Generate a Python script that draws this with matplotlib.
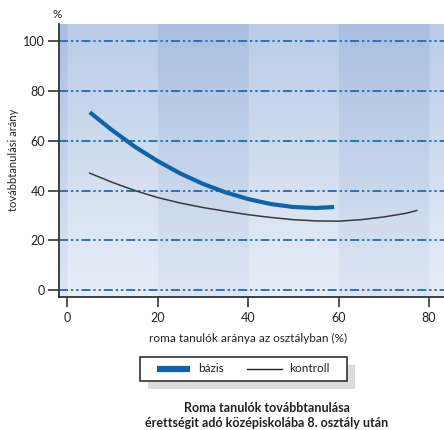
import numpy as np
import matplotlib
matplotlib.use("Agg")
import matplotlib.pyplot as plt
from matplotlib.patches import Rectangle
from matplotlib.lines import Line2D

# Data
bazis_x = [5, 10, 15, 20, 25, 30, 35, 40, 45, 50, 55, 59]
bazis_y = [71.5, 64.2, 57.6, 51.9, 46.9, 42.7, 39.3, 36.6, 34.6, 33.4, 33.0, 33.4]
kontroll_x = [5, 10, 15, 20, 25, 30, 35, 40, 45, 50, 55, 60, 65, 70, 75, 77.3]
kontroll_y = [47.0, 43.3, 40.0, 37.2, 35.0, 33.2, 31.7, 30.3, 29.2, 28.3, 27.8, 27.7, 28.3, 29.4, 30.9, 32.0]
x_ticks = [0, 20, 40, 60, 80]
y_ticks = [0, 20, 40, 60, 80, 100]
series_labels = ["bázis", "kontroll"]

plt.rcParams['font.family'] = ['Lato', 'DejaVu Sans']

fig = plt.figure(figsize=(4.44, 4.30), dpi=100)
ax = fig.add_axes([59/444, 1-297/430, 1-59/444, (297-24)/430])
xmin, xmax = -1.8, 83.3
ymin, ymax = -2.8, 107.0
ax.set_xlim(xmin, xmax)
ax.set_ylim(ymin, ymax)

# background: alternating vertical bands with vertical gradient
top_light = np.array([0xb9, 0xcc, 0xe7]) / 255
top_dark = np.array([0xa9, 0xbf, 0xe0]) / 255
bot_light = np.array([0xe8, 0xee, 0xf8]) / 255
bot_dark = np.array([0xde, 0xe6, 0xf4]) / 255
nx, ny = 600, 200
xs = np.linspace(xmin, xmax, nx)
band_dark = (np.floor(xs / 20).astype(int) % 2 != 0)
t = np.linspace(0, 1, ny)[:, None, None]
light = top_light * (1 - t) + bot_light * t
dark = top_dark * (1 - t) + bot_dark * t
img = np.where(band_dark[None, :, None], dark, light)
ax.imshow(img, extent=[xmin, xmax, ymin, ymax], aspect='auto', origin='upper', zorder=0)

for yv in y_ticks:
    ax.axhline(yv, color='#1b6db3', lw=1.3, dashes=(5, 1.6, 1.3, 1.6, 1.3, 1.6), zorder=1)

ax.plot(bazis_x, bazis_y, color='#0f63a8', lw=3.0, solid_capstyle='butt', zorder=3)
ax.plot(kontroll_x, kontroll_y, color='#3a3a3a', lw=1.1, zorder=3)

for s in ['top', 'right']:
    ax.spines[s].set_visible(False)
for s in ['left', 'bottom']:
    ax.spines[s].set_color('#333333')
    ax.spines[s].set_linewidth(1.3)

ax.set_xticks(x_ticks)
ax.set_yticks(y_ticks)
ax.tick_params(axis='y', length=8, width=1.2, color='#333333', labelsize=9, pad=2, direction='out',
               labelcolor='#222222')
ax.tick_params(axis='x', length=7, width=1.2, color='#333333', labelsize=9, pad=4, direction='out',
               labelcolor='#222222')

fig.text(57/444, 1-14/430, '%', fontsize=8.5, ha='center', va='center', color='#222222')
fig.text(14/444, 1-160/430, 'továbbtanulási arány', rotation=90, fontsize=8,
         ha='center', va='center', color='#222222')
fig.text(248/444, 1-338/430, 'roma tanulók aránya az osztályban (%)', fontsize=8.5,
         ha='center', va='center', color='#222222')

# legend with shadow
sh = Rectangle((148/444, 1-389/430), (355-148)/444, (389-365)/430, transform=fig.transFigure,
               facecolor='#dcdcdc', edgecolor='none')
fig.patches.append(sh)
box = Rectangle((140/444, 1-381/430), (347-140)/444, (381-357)/430, transform=fig.transFigure,
                facecolor='white', edgecolor='#222222', lw=1.1)
fig.patches.append(box)
yl = 1-369/430
fig.add_artist(Line2D([157/444, 190/444], [yl, yl], color='#0f63a8', lw=4.5, solid_capstyle='butt',
                      transform=fig.transFigure))
fig.text(198/444, yl, series_labels[0], fontsize=8.5, va='center', ha='left', color='#222222')
fig.add_artist(Line2D([247/444, 282/444], [yl, yl], color='#222222', lw=1.0,
                      transform=fig.transFigure))
fig.text(289/444, yl, series_labels[1], fontsize=8.5, va='center', ha='left', color='#222222')

fig.text(267/444, 1-408/430, 'Roma tanulók továbbtanulása', fontsize=9, fontweight='bold',
         ha='center', va='center', color='#222222')
fig.text(267/444, 1-423/430, 'érettségit adó középiskolába 8. osztály után', fontsize=9,
         fontweight='bold', ha='center', va='center', color='#222222')

fig.savefig('out.png', dpi=100)
